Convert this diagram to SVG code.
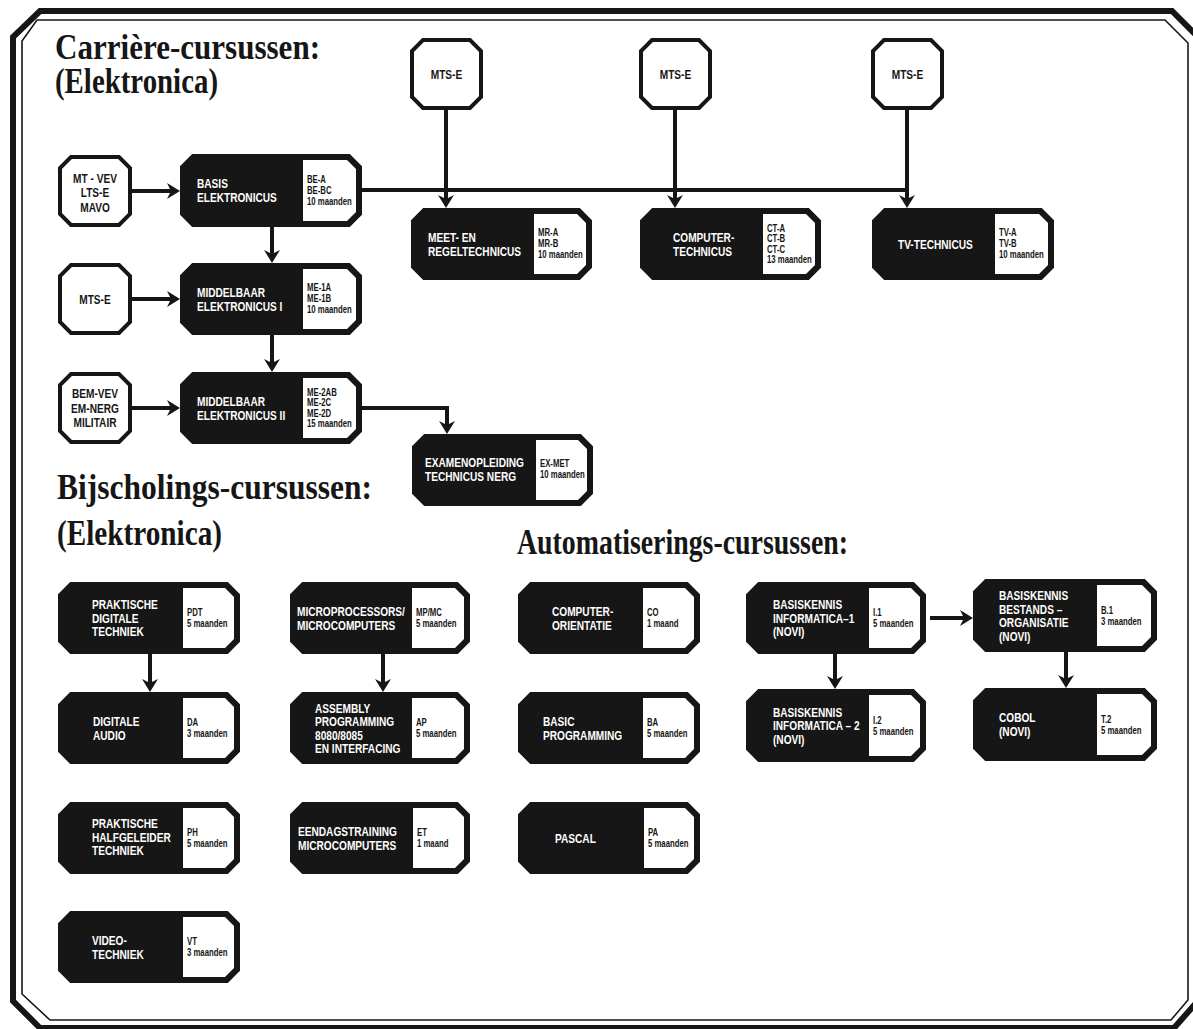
<svg xmlns="http://www.w3.org/2000/svg" width="1193" height="1029" viewBox="0 0 1193 1029">
  <style>
    .frame-outer { fill: none; stroke: #161616; stroke-width: 6; stroke-linejoin: miter; }
    .frame-inner { fill: none; stroke: #161616; stroke-width: 1.6; }
    .title { font-family: "Liberation Serif", "Times New Roman", serif; font-weight: bold; font-size: 35px; fill: #161616; }
    .course { fill: #161616; stroke: #161616; stroke-width: 4; stroke-linejoin: miter; }
    .panel { fill: #ffffff; }
    .entry { fill: #ffffff; stroke: #161616; stroke-width: 4; stroke-linejoin: miter; }
    .lbl { font-family: "Liberation Sans", Arial, sans-serif; font-weight: bold; font-size: 13.5px; fill: #ffffff; }
    .lbl-in { font-family: "Liberation Sans", Arial, sans-serif; font-weight: bold; font-size: 13.5px; fill: #161616; text-anchor: middle; }
    .code { font-family: "Liberation Sans", Arial, sans-serif; font-weight: bold; font-size: 10.5px; fill: #161616; }
    .wire { fill: none; stroke: #161616; stroke-width: 4; }
    .arrow { marker-end: url(#head); }
  </style>
  <defs>
    <marker id="head" markerUnits="userSpaceOnUse" markerWidth="20" markerHeight="20" viewBox="-8 -10 18 20" refX="0" refY="0" orient="auto">
      <path d="M8,0 L-5,-8 L-1,0 L-5,8 Z" fill="#161616"/>
    </marker>
  </defs>

  <rect x="0" y="0" width="1193" height="1029" fill="#ffffff"/>

  <!-- double frame with chamfered corners -->
  <g id="frame">
    <path class="frame-outer" d="M40,11 H1172 L1197,36 V1002 L1174,1028 H40 L13,1001 V37 Z"/>
    <path class="frame-inner" d="M37,20 H1165 L1188,43 V1000 L1171,1020 H50 L22,994 V41 Z"/>
  </g>

  <!-- section headings -->
  <g id="headings">
    <text class="title" x="55" y="59" textLength="265" lengthAdjust="spacingAndGlyphs">Carrière-cursussen:</text>
    <text class="title" x="55" y="93" textLength="163" lengthAdjust="spacingAndGlyphs">(Elektronica)</text>
    <text class="title" x="57" y="499" textLength="315" lengthAdjust="spacingAndGlyphs">Bijscholings-cursussen:</text>
    <text class="title" x="57" y="545" textLength="165" lengthAdjust="spacingAndGlyphs">(Elektronica)</text>
    <text class="title" x="517" y="554" textLength="331" lengthAdjust="spacingAndGlyphs">Automatiserings-cursussen:</text>
  </g>

  <!-- connectors -->
  <g id="connectors">
    <path class="wire arrow" d="M132,191 H172"/>
    <path class="wire arrow" d="M132,299 H172"/>
    <path class="wire arrow" d="M132,408 H172"/>
    <path class="wire arrow" d="M272,227 V255"/>
    <path class="wire arrow" d="M272,335 V364"/>
    <path class="wire" d="M362,190 H909"/>
    <path class="wire arrow" d="M446,110 V200"/>
    <path class="wire arrow" d="M675,110 V200"/>
    <path class="wire arrow" d="M907,110 V200"/>
    <path class="wire arrow" d="M362,408 H447 V426"/>
    <path class="wire arrow" d="M150,654 V684"/>
    <path class="wire arrow" d="M383,654 V684"/>
    <path class="wire arrow" d="M835,654 V681"/>
    <path class="wire arrow" d="M1066,652 V680"/>
    <path class="wire arrow" d="M930,618 H965"/>
  </g>

  <!-- entry requirement boxes -->
  <g id="in-mtvev">
    <path class="entry" d="M71,157 H119 L130,168 V214 L119,225 H71 L60,214 V168 Z"/>
    <g transform="translate(95,0) scale(0.75,1)">
      <text class="lbl-in" x="0" y="183">MT - VEV</text>
      <text class="lbl-in" x="0" y="197.5">LTS-E</text>
      <text class="lbl-in" x="0" y="212">MAVO</text>
    </g>
  </g>
  <g id="in-mtse-left">
    <path class="entry" d="M71,265 H119 L130,276 V322 L119,333 H71 L60,322 V276 Z"/>
    <g transform="translate(95,0) scale(0.75,1)">
      <text class="lbl-in" x="0" y="304">MTS-E</text>
    </g>
  </g>
  <g id="in-bemvev">
    <path class="entry" d="M71,374 H119 L130,385 V431 L119,442 H71 L60,431 V385 Z"/>
    <g transform="translate(95,0) scale(0.75,1)">
      <text class="lbl-in" x="0" y="398.5">BEM-VEV</text>
      <text class="lbl-in" x="0" y="413">EM-NERG</text>
      <text class="lbl-in" x="0" y="427.5">MILITAIR</text>
    </g>
  </g>
  <g id="in-mtse-1">
    <path class="entry" d="M423,40 H470 L481,51 V97 L470,108 H423 L412,97 V51 Z"/>
    <g transform="translate(446.5,0) scale(0.75,1)">
      <text class="lbl-in" x="0" y="79">MTS-E</text>
    </g>
  </g>
  <g id="in-mtse-2">
    <path class="entry" d="M652,40 H699 L710,51 V97 L699,108 H652 L641,97 V51 Z"/>
    <g transform="translate(675.5,0) scale(0.75,1)">
      <text class="lbl-in" x="0" y="79">MTS-E</text>
    </g>
  </g>
  <g id="in-mtse-3">
    <path class="entry" d="M884,40 H931 L942,51 V97 L931,108 H884 L873,97 V51 Z"/>
    <g transform="translate(907.5,0) scale(0.75,1)">
      <text class="lbl-in" x="0" y="79">MTS-E</text>
    </g>
  </g>

  <!-- career courses -->
  <g id="be">
    <path class="course" d="M193,156 H349 L360,167 V214 L349,225 H193 L182,214 V167 Z"/>
    <path class="panel" d="M303,160 H347 L356,169 V212 L347,221 H303 Z"/>
    <g transform="translate(197,0) scale(0.75,1)">
      <text class="lbl" x="0" y="188.3">BASIS</text>
      <text class="lbl" x="0" y="202.3">ELEKTRONICUS</text>
    </g>
    <g transform="translate(307,0) scale(0.74,1)">
      <text class="code" x="0" y="183">BE-A</text>
      <text class="code" x="0" y="194">BE-BC</text>
      <text class="code" x="0" y="205">10 maanden</text>
    </g>
  </g>
  <g id="me1">
    <path class="course" d="M193,265 H349 L360,276 V322 L349,333 H193 L182,322 V276 Z"/>
    <path class="panel" d="M303,269 H347 L356,278 V320 L347,329 H303 Z"/>
    <g transform="translate(197,0) scale(0.75,1)">
      <text class="lbl" x="0" y="297">MIDDELBAAR</text>
      <text class="lbl" x="0" y="311">ELEKTRONICUS I</text>
    </g>
    <g transform="translate(307,0) scale(0.74,1)">
      <text class="code" x="0" y="291.5">ME-1A</text>
      <text class="code" x="0" y="302.5">ME-1B</text>
      <text class="code" x="0" y="313.5">10 maanden</text>
    </g>
  </g>
  <g id="me2">
    <path class="course" d="M193,374 H349 L360,385 V431 L349,442 H193 L182,431 V385 Z"/>
    <path class="panel" d="M303,378 H347 L356,387 V429 L347,438 H303 Z"/>
    <g transform="translate(197,0) scale(0.75,1)">
      <text class="lbl" x="0" y="405.8">MIDDELBAAR</text>
      <text class="lbl" x="0" y="419.8">ELEKTRONICUS II</text>
    </g>
    <g transform="translate(307,0) scale(0.74,1)">
      <text class="code" x="0" y="396">ME-2AB</text>
      <text class="code" x="0" y="406.5">ME-2C</text>
      <text class="code" x="0" y="417">ME-2D</text>
      <text class="code" x="0" y="427.5">15 maanden</text>
    </g>
  </g>
  <g id="mr">
    <path class="course" d="M424,210 H579 L590,221 V267 L579,278 H424 L413,267 V221 Z"/>
    <path class="panel" d="M534,214 H577 L586,223 V265 L577,274 H534 Z"/>
    <g transform="translate(428,0) scale(0.75,1)">
      <text class="lbl" x="0" y="241.8">MEET- EN</text>
      <text class="lbl" x="0" y="255.8">REGELTECHNICUS</text>
    </g>
    <g transform="translate(538,0) scale(0.74,1)">
      <text class="code" x="0" y="236.5">MR-A</text>
      <text class="code" x="0" y="247.5">MR-B</text>
      <text class="code" x="0" y="258.5">10 maanden</text>
    </g>
  </g>
  <g id="ct">
    <path class="course" d="M653,210 H808 L819,221 V267 L808,278 H653 L642,267 V221 Z"/>
    <path class="panel" d="M763,214 H806 L815,223 V265 L806,274 H763 Z"/>
    <g transform="translate(673,0) scale(0.75,1)">
      <text class="lbl" x="0" y="241.8">COMPUTER-</text>
      <text class="lbl" x="0" y="255.8">TECHNICUS</text>
    </g>
    <g transform="translate(767,0) scale(0.74,1)">
      <text class="code" x="0" y="232">CT-A</text>
      <text class="code" x="0" y="242.5">CT-B</text>
      <text class="code" x="0" y="253">CT-C</text>
      <text class="code" x="0" y="263.5">13 maanden</text>
    </g>
  </g>
  <g id="tv">
    <path class="course" d="M885,210 H1041 L1052,221 V267 L1041,278 H885 L874,267 V221 Z"/>
    <path class="panel" d="M995,214 H1039 L1048,223 V265 L1039,274 H995 Z"/>
    <g transform="translate(898,0) scale(0.75,1)">
      <text class="lbl" x="0" y="248.8">TV-TECHNICUS</text>
    </g>
    <g transform="translate(999,0) scale(0.74,1)">
      <text class="code" x="0" y="236.5">TV-A</text>
      <text class="code" x="0" y="247.5">TV-B</text>
      <text class="code" x="0" y="258.5">10 maanden</text>
    </g>
  </g>
  <g id="ex">
    <path class="course" d="M425,436 H580 L591,447 V493 L580,504 H425 L414,493 V447 Z"/>
    <path class="panel" d="M536,440 H578 L587,449 V491 L578,500 H536 Z"/>
    <g transform="translate(425,0) scale(0.75,1)">
      <text class="lbl" x="0" y="466.8">EXAMENOPLEIDING</text>
      <text class="lbl" x="0" y="480.8">TECHNICUS NERG</text>
    </g>
    <g transform="translate(540,0) scale(0.74,1)">
      <text class="code" x="0" y="467.5">EX-MET</text>
      <text class="code" x="0" y="478.5">10 maanden</text>
    </g>
  </g>

  <!-- refresher courses -->
  <g id="pdt">
    <path class="course" d="M71,584 H227 L238,595 V641 L227,652 H71 L60,641 V595 Z"/>
    <path class="panel" d="M183,588 H225 L234,597 V639 L225,648 H183 Z"/>
    <g transform="translate(92,0) scale(0.75,1)">
      <text class="lbl" x="0" y="609.3">PRAKTISCHE</text>
      <text class="lbl" x="0" y="622.8">DIGITALE</text>
      <text class="lbl" x="0" y="636.3">TECHNIEK</text>
    </g>
    <g transform="translate(187,0) scale(0.74,1)">
      <text class="code" x="0" y="616.5">PDT</text>
      <text class="code" x="0" y="627.5">5 maanden</text>
    </g>
  </g>
  <g id="da">
    <path class="course" d="M71,694 H227 L238,705 V751 L227,762 H71 L60,751 V705 Z"/>
    <path class="panel" d="M183,698 H225 L234,707 V749 L225,758 H183 Z"/>
    <g transform="translate(93,0) scale(0.75,1)">
      <text class="lbl" x="0" y="725.8">DIGITALE</text>
      <text class="lbl" x="0" y="739.8">AUDIO</text>
    </g>
    <g transform="translate(187,0) scale(0.74,1)">
      <text class="code" x="0" y="726.5">DA</text>
      <text class="code" x="0" y="737.5">3 maanden</text>
    </g>
  </g>
  <g id="ph">
    <path class="course" d="M71,804 H227 L238,815 V861 L227,872 H71 L60,861 V815 Z"/>
    <path class="panel" d="M183,808 H225 L234,817 V859 L225,868 H183 Z"/>
    <g transform="translate(92,0) scale(0.75,1)">
      <text class="lbl" x="0" y="828.5">PRAKTISCHE</text>
      <text class="lbl" x="0" y="842">HALFGELEIDER</text>
      <text class="lbl" x="0" y="855.5">TECHNIEK</text>
    </g>
    <g transform="translate(187,0) scale(0.74,1)">
      <text class="code" x="0" y="836.5">PH</text>
      <text class="code" x="0" y="847.5">5 maanden</text>
    </g>
  </g>
  <g id="vt">
    <path class="course" d="M71,913 H227 L238,924 V970 L227,981 H71 L60,970 V924 Z"/>
    <path class="panel" d="M183,917 H225 L234,926 V968 L225,977 H183 Z"/>
    <g transform="translate(92,0) scale(0.75,1)">
      <text class="lbl" x="0" y="944.8">VIDEO-</text>
      <text class="lbl" x="0" y="958.8">TECHNIEK</text>
    </g>
    <g transform="translate(187,0) scale(0.74,1)">
      <text class="code" x="0" y="945.5">VT</text>
      <text class="code" x="0" y="956.5">3 maanden</text>
    </g>
  </g>
  <g id="mp">
    <path class="course" d="M303,584 H457 L468,595 V641 L457,652 H303 L292,641 V595 Z"/>
    <path class="panel" d="M412,588 H455 L464,597 V639 L455,648 H412 Z"/>
    <g transform="translate(297,0) scale(0.75,1)">
      <text class="lbl" x="0" y="615.8">MICROPROCESSORS/</text>
      <text class="lbl" x="0" y="629.8">MICROCOMPUTERS</text>
    </g>
    <g transform="translate(416,0) scale(0.74,1)">
      <text class="code" x="0" y="616.5">MP/MC</text>
      <text class="code" x="0" y="627.5">5 maanden</text>
    </g>
  </g>
  <g id="ap">
    <path class="course" d="M303,694 H457 L468,705 V751 L457,762 H303 L292,751 V705 Z"/>
    <path class="panel" d="M412,698 H455 L464,707 V749 L455,758 H412 Z"/>
    <g transform="translate(315,0) scale(0.75,1)">
      <text class="lbl" x="0" y="712.8">ASSEMBLY</text>
      <text class="lbl" x="0" y="726.3">PROGRAMMING</text>
      <text class="lbl" x="0" y="739.8">8080/8085</text>
      <text class="lbl" x="0" y="753.3">EN INTERFACING</text>
    </g>
    <g transform="translate(416,0) scale(0.74,1)">
      <text class="code" x="0" y="726.5">AP</text>
      <text class="code" x="0" y="737.5">5 maanden</text>
    </g>
  </g>
  <g id="et">
    <path class="course" d="M303,804 H457 L468,815 V861 L457,872 H303 L292,861 V815 Z"/>
    <path class="panel" d="M413,808 H455 L464,817 V859 L455,868 H413 Z"/>
    <g transform="translate(298,0) scale(0.75,1)">
      <text class="lbl" x="0" y="835.8">EENDAGSTRAINING</text>
      <text class="lbl" x="0" y="849.8">MICROCOMPUTERS</text>
    </g>
    <g transform="translate(417,0) scale(0.74,1)">
      <text class="code" x="0" y="836.5">ET</text>
      <text class="code" x="0" y="847.5">1 maand</text>
    </g>
  </g>

  <!-- automation courses -->
  <g id="co">
    <path class="course" d="M531,584 H687 L698,595 V641 L687,652 H531 L520,641 V595 Z"/>
    <path class="panel" d="M643,588 H685 L694,597 V639 L685,648 H643 Z"/>
    <g transform="translate(552,0) scale(0.75,1)">
      <text class="lbl" x="0" y="615.8">COMPUTER-</text>
      <text class="lbl" x="0" y="629.8">ORIENTATIE</text>
    </g>
    <g transform="translate(647,0) scale(0.74,1)">
      <text class="code" x="0" y="616.5">CO</text>
      <text class="code" x="0" y="627.5">1 maand</text>
    </g>
  </g>
  <g id="ba">
    <path class="course" d="M531,694 H687 L698,705 V751 L687,762 H531 L520,751 V705 Z"/>
    <path class="panel" d="M643,698 H685 L694,707 V749 L685,758 H643 Z"/>
    <g transform="translate(543,0) scale(0.75,1)">
      <text class="lbl" x="0" y="725.8">BASIC</text>
      <text class="lbl" x="0" y="739.8">PROGRAMMING</text>
    </g>
    <g transform="translate(647,0) scale(0.74,1)">
      <text class="code" x="0" y="726.5">BA</text>
      <text class="code" x="0" y="737.5">5 maanden</text>
    </g>
  </g>
  <g id="pa">
    <path class="course" d="M531,804 H687 L698,815 V861 L687,872 H531 L520,861 V815 Z"/>
    <path class="panel" d="M644,808 H685 L694,817 V859 L685,868 H644 Z"/>
    <g transform="translate(555,0) scale(0.75,1)">
      <text class="lbl" x="0" y="842.8">PASCAL</text>
    </g>
    <g transform="translate(648,0) scale(0.74,1)">
      <text class="code" x="0" y="836.5">PA</text>
      <text class="code" x="0" y="847.5">5 maanden</text>
    </g>
  </g>
  <g id="i1">
    <path class="course" d="M759,584 H913 L924,595 V641 L913,652 H759 L748,641 V595 Z"/>
    <path class="panel" d="M869,588 H911 L920,597 V639 L911,648 H869 Z"/>
    <g transform="translate(773,0) scale(0.75,1)">
      <text class="lbl" x="0" y="609.3">BASISKENNIS</text>
      <text class="lbl" x="0" y="622.8">INFORMATICA–1</text>
      <text class="lbl" x="0" y="636.3">(NOVI)</text>
    </g>
    <g transform="translate(873,0) scale(0.74,1)">
      <text class="code" x="0" y="616.5">I.1</text>
      <text class="code" x="0" y="627.5">5 maanden</text>
    </g>
  </g>
  <g id="i2">
    <path class="course" d="M759,691 H913 L924,702 V749 L913,760 H759 L748,749 V702 Z"/>
    <path class="panel" d="M869,695 H911 L920,704 V747 L911,756 H869 Z"/>
    <g transform="translate(773,0) scale(0.75,1)">
      <text class="lbl" x="0" y="716.8">BASISKENNIS</text>
      <text class="lbl" x="0" y="730.3">INFORMATICA – 2</text>
      <text class="lbl" x="0" y="743.8">(NOVI)</text>
    </g>
    <g transform="translate(873,0) scale(0.74,1)">
      <text class="code" x="0" y="724">I.2</text>
      <text class="code" x="0" y="735">5 maanden</text>
    </g>
  </g>
  <g id="b1">
    <path class="course" d="M986,581 H1144 L1155,592 V639 L1144,650 H986 L975,639 V592 Z"/>
    <path class="panel" d="M1097,585 H1142 L1151,594 V637 L1142,646 H1097 Z"/>
    <g transform="translate(999,0) scale(0.75,1)">
      <text class="lbl" x="0" y="600.3">BASISKENNIS</text>
      <text class="lbl" x="0" y="613.8">BESTANDS –</text>
      <text class="lbl" x="0" y="627.3">ORGANISATIE</text>
      <text class="lbl" x="0" y="640.8">(NOVI)</text>
    </g>
    <g transform="translate(1101,0) scale(0.74,1)">
      <text class="code" x="0" y="614">B.1</text>
      <text class="code" x="0" y="625">3 maanden</text>
    </g>
  </g>
  <g id="t2">
    <path class="course" d="M986,690 H1144 L1155,701 V748 L1144,759 H986 L975,748 V701 Z"/>
    <path class="panel" d="M1097,694 H1142 L1151,703 V746 L1142,755 H1097 Z"/>
    <g transform="translate(999,0) scale(0.75,1)">
      <text class="lbl" x="0" y="722.3">COBOL</text>
      <text class="lbl" x="0" y="736.3">(NOVI)</text>
    </g>
    <g transform="translate(1101,0) scale(0.74,1)">
      <text class="code" x="0" y="723">T.2</text>
      <text class="code" x="0" y="734">5 maanden</text>
    </g>
  </g>
</svg>
